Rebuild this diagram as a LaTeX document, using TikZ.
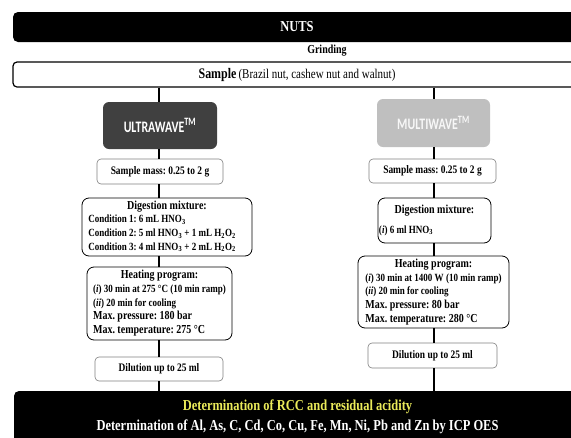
\documentclass[tikz,border=0pt]{standalone}
\usepackage{fontspec}
\setmainfont{Liberation Serif}[FakeStretch=0.82]
\newfontfamily\calibri{Carlito}[FakeStretch=0.74]

\definecolor{jaune}{RGB}{235,235,90}
\definecolor{grisfonce}{RGB}{64,64,64}
\definecolor{grisclair}{RGB}{191,191,191}

\tikzset{
  barre/.style={fill=black, text=white, rounded corners=5pt, inner sep=0pt},
  boite/.style={draw=gray, line width=0.6pt, rounded corners=4pt, fill=white,
    inner sep=0pt, font=\bfseries\fontsize{11.5}{13}\selectfont},
  bloc/.style={draw=black, line width=0.8pt, rounded corners=7pt, fill=white,
    inner sep=0pt, font=\bfseries\fontsize{11}{13.7}\selectfont},
  four/.style={rounded corners=6pt, inner sep=0pt,
    font=\calibri\bfseries\fontsize{16}{18}\selectfont},
  lien/.style={line width=1.2pt},
}
\newcommand{\grand}{\fontsize{12.2}{13.7}\selectfont}
\newcommand{\titre}[1]{\multicolumn{1}{@{}c@{}}{\grand #1}}

\begin{document}
\frenchspacing
\begin{tikzpicture}[x=1pt, y=-1pt]
    \useasboundingbox (0,0) rectangle (571,437);

    % Bandeau du haut
    \node[barre, minimum width=568pt, minimum height=30pt,
      font=\bfseries\fontsize{15.2}{16}\selectfont] (nuts) at (297,27) {NUTS};
    \node[font=\bfseries\fontsize{12.2}{14}\selectfont] (broyage) at (327,51) {Grinding};
    \node[draw, line width=1.2pt, rounded corners=4pt, minimum width=568pt,
      minimum height=25pt, inner sep=0pt] (echant) at (297,74.5)
    {{\bfseries\fontsize{14.6}{16}\selectfont Sample}
      {\fontsize{13.4}{15}\selectfont (Brazil nut, cashew nut and walnut)}};

    % Colonnes
    \coordinate (colG) at (159,0);
    \coordinate (colD) at (434,0);

    % Colonne de gauche
    \node[four, fill=grisfonce, text=white, minimum width=114pt,
      minimum height=47pt] (ultra) at (160,125.5) {ULTRAWAVE\textsuperscript{TM}};
    \node[boite, minimum width=126pt, minimum height=25pt] (masseG)
    at (160,171.5) {Sample mass: 0.25 to 2 g};
    \node[bloc, minimum width=170pt, minimum height=58pt] (digestG)
    at (167,227) {\begin{tabular}{@{}l@{\hspace{10pt}}}
      \titre{Digestion mixture:}\\
      Condition 1: 6 mL HNO\textsubscript{3}\\
      Condition 2: 5 ml HNO\textsubscript{3} + 1 mL H\textsubscript{2}O\textsubscript{2}\\
      Condition 3: 4 ml HNO\textsubscript{3} + 2 mL H\textsubscript{2}O\textsubscript{2}
    \end{tabular}};
    \node[bloc, minimum width=145pt, minimum height=73pt] (chauffeG)
    at (159.5,303.5) {\begin{tabular}{@{}l@{}}
      \titre{Heating program:}\\
      (\textit{i}) 30 min at 275 \textdegree C (10 min ramp)\\
      (\textit{ii}) 20 min for cooling\\
      {\grand Max. pressure: 180 bar}\\
      {\grand Max. temperature: 275 \textdegree C}
    \end{tabular}};
    \node[boite, minimum width=128pt, minimum height=24pt] (dilG)
    at (159,369) {Dilution up to 25 ml};

    % Colonne de droite
    \node[four, fill=grisclair, text=white!94!gray, minimum width=113pt,
      minimum height=48pt] (multi) at (433.5,123) {MULTIWAVE\textsuperscript{TM}};
    \node[boite, minimum width=127pt, minimum height=24pt] (masseD)
    at (432.5,171) {Sample mass: 0.25 to 2 g};
    \node[bloc, minimum width=113pt, minimum height=45pt] (digestD)
    at (434.5,220.5) {\begin{tabular}{@{}l@{}}
      \titre{Digestion mixture:}\\[6pt]
      (\textit{i}) 6 ml HNO\textsubscript{3}\hspace{57pt}
    \end{tabular}};
    \node[bloc, minimum width=151pt, minimum height=72pt] (chauffeD)
    at (433.5,292) {\begin{tabular}{@{}l@{}}
      \titre{Heating program:}\\
      (\textit{i}) 30 min at 1400 W (10 min ramp)\\
      (\textit{ii}) 20 min for cooling\\
      {\grand Max. pressure: 80 bar}\\
      {\grand Max. temperature: 280 \textdegree C}
    \end{tabular}};
    \node[boite, minimum width=129pt, minimum height=25pt] (dilD)
    at (432.5,355.5) {Dilution up to 25 ml};

    % Bandeau du bas
    \node[barre, minimum width=567pt, minimum height=52pt, align=center,
      font=\bfseries\fontsize{15.2}{20}\selectfont] (resultat) at (297.5,417)
    {\textcolor{jaune}{Determination of RCC and residual acidity}\\
      Determination of Al, As, C, Cd, Co, Cu, Fe, Mn, Ni, Pb and Zn by ICP OES};

    % Liens
    \foreach \a/\b in {echant/ultra, ultra/masseG, masseG/digestG,
      digestG/chauffeG, chauffeG/dilG, dilG/resultat} {
      \draw[lien] (\a.south -| colG) -- (\b.north -| colG);
    }
    \foreach \a/\b in {echant/multi, multi/masseD, masseD/digestD,
      digestD/chauffeD, chauffeD/dilD, dilD/resultat} {
      \draw[lien] (\a.south -| colD) -- (\b.north -| colD);
    }
  \end{tikzpicture}
\end{document}
